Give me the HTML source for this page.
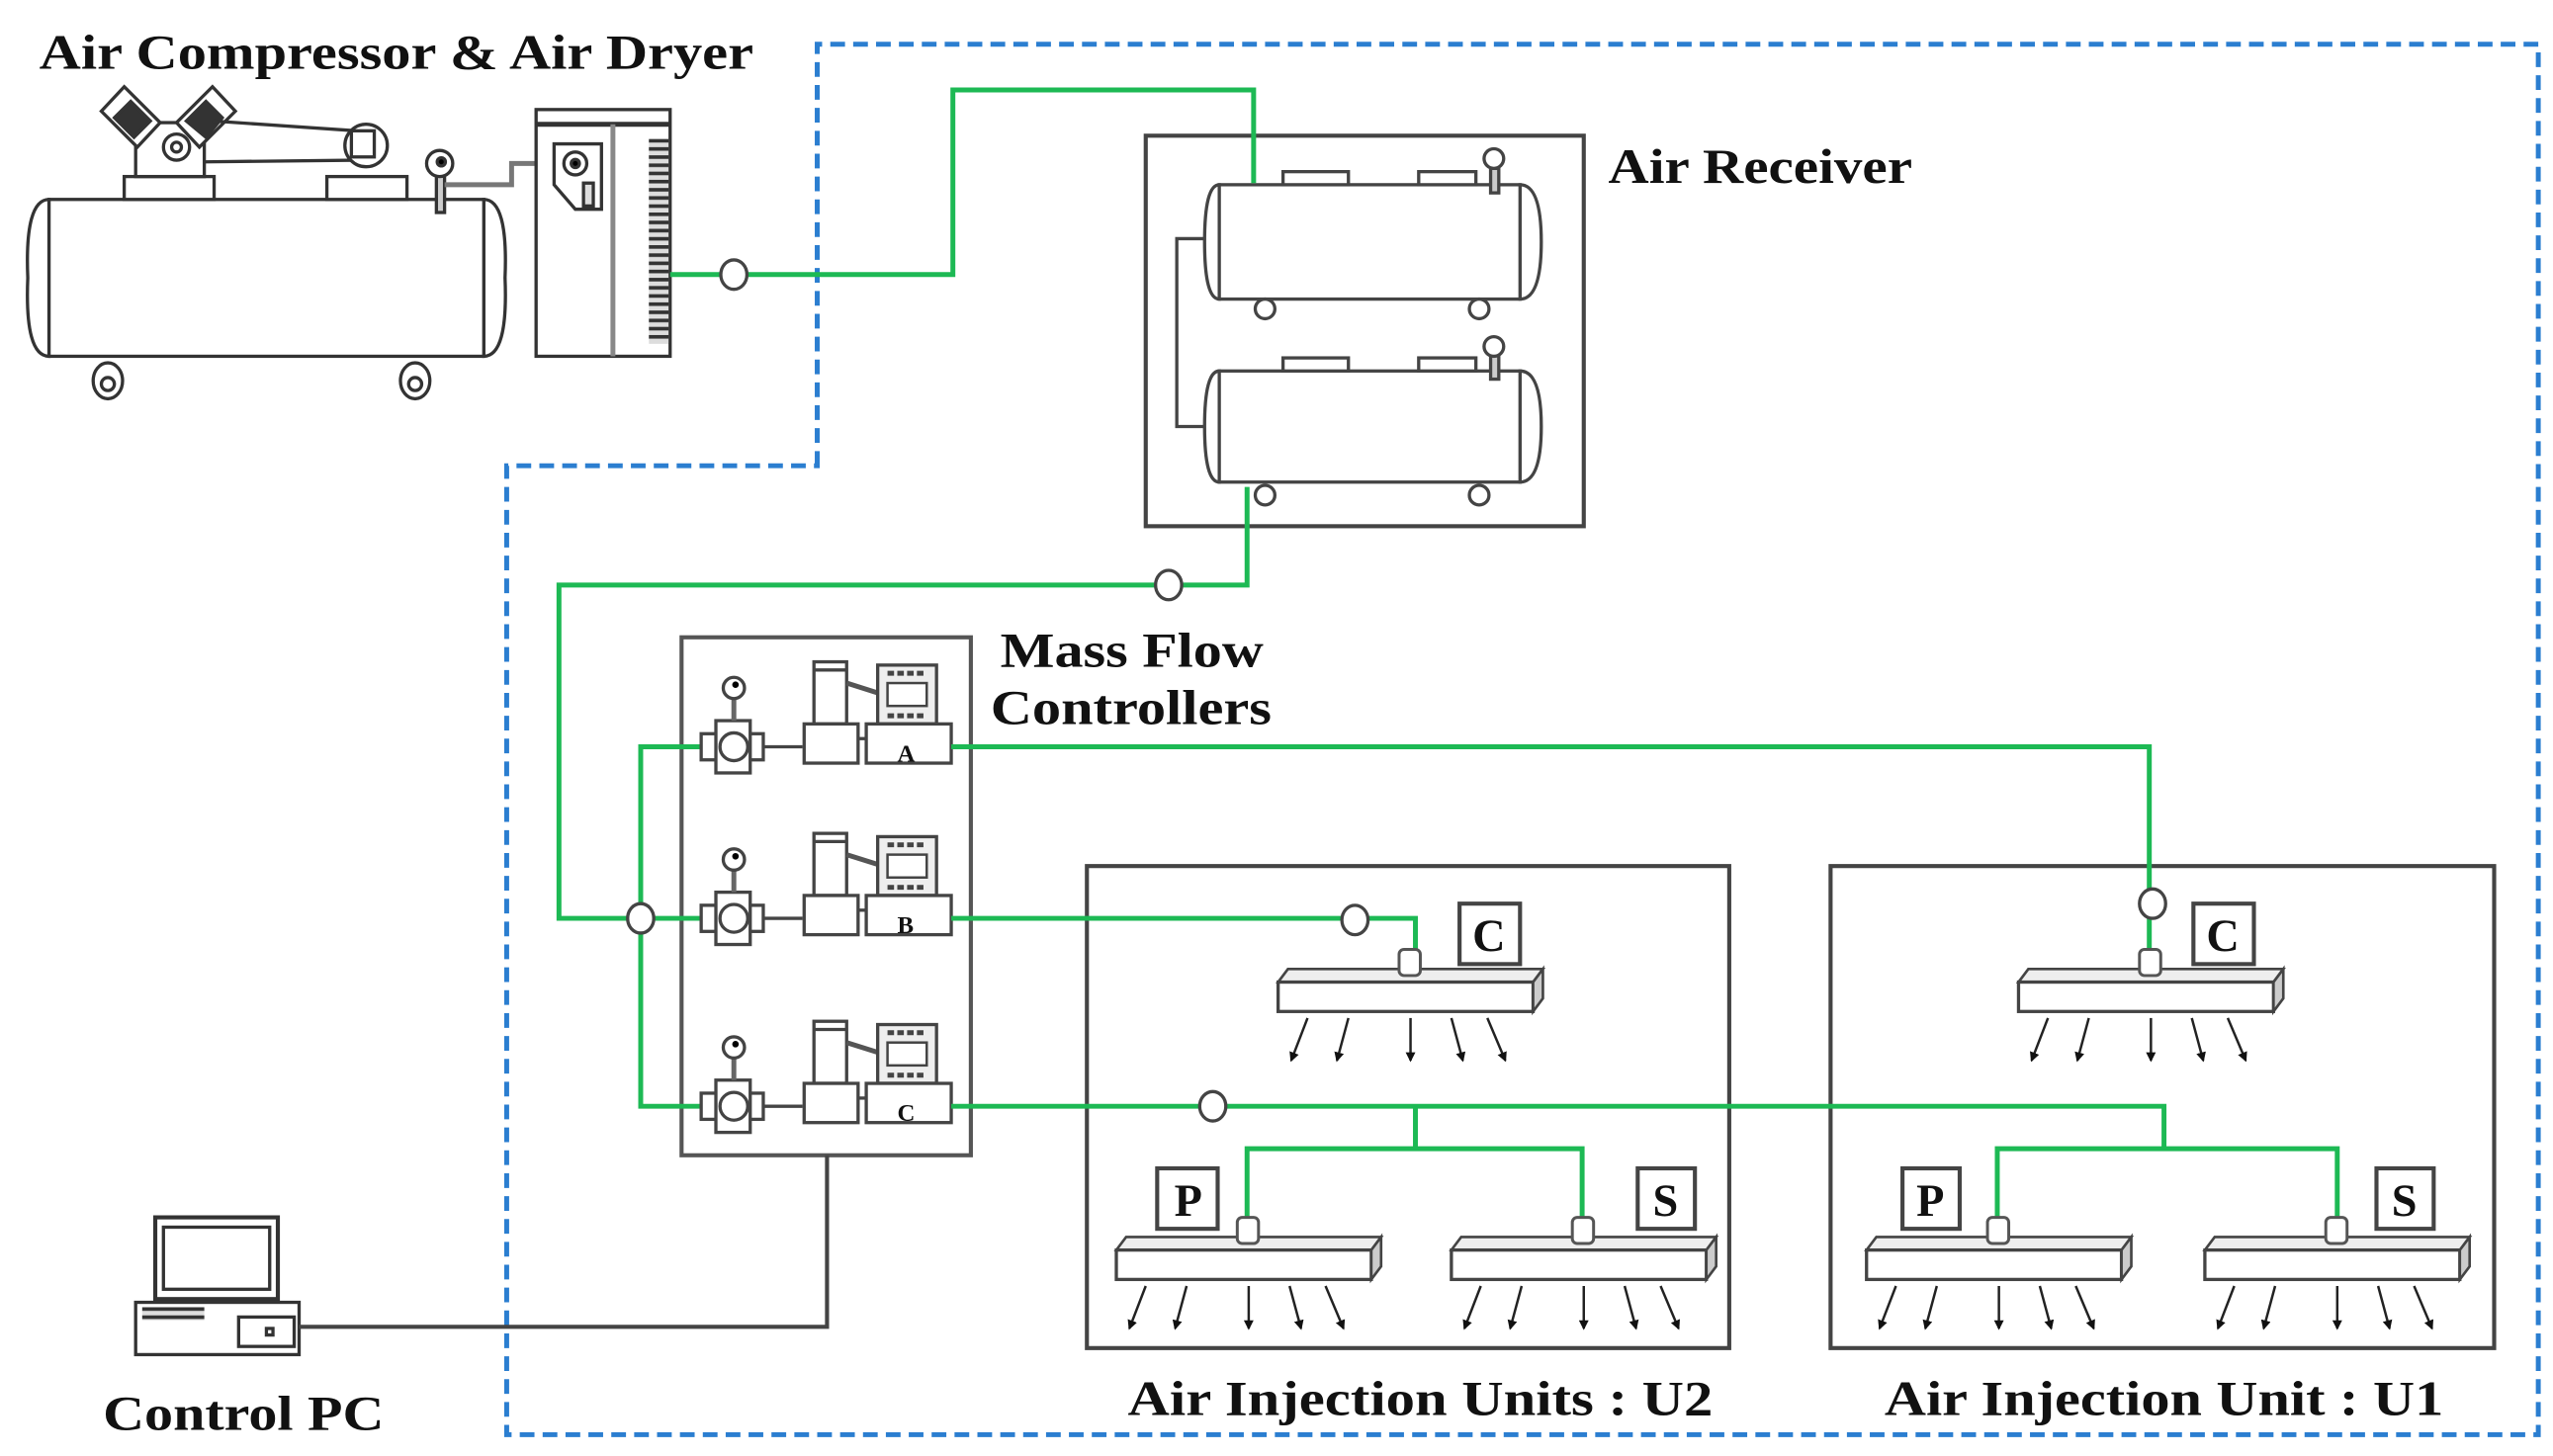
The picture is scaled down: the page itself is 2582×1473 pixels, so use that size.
<!DOCTYPE html>
<html><head><meta charset="utf-8"><style>
html,body{margin:0;padding:0;background:#fff;}
svg{display:block;}
text{font-family:"Liberation Serif",serif;font-weight:bold;fill:#111;}
</style></head><body>
<svg width="2582" height="1473" viewBox="0 0 1562 891" xmlns="http://www.w3.org/2000/svg">
<defs>
<pattern id="vent" width="6" height="5" patternUnits="userSpaceOnUse"><rect width="12" height="5" fill="#ddd"/><rect width="12" height="2.2" fill="#333"/></pattern>
<marker id="ah" markerWidth="6" markerHeight="6" refX="5" refY="3" orient="auto" markerUnits="userSpaceOnUse"><path d="M0,0 L6,3 L0,6 z" fill="#111"/></marker>
<g id="bar">
 <polygon points="0,8 6,0 162,0 156,8" fill="#eee" stroke="#444" stroke-width="1.6"/>
 <rect x="0" y="8" width="156" height="18" fill="#fff" stroke="#444" stroke-width="2"/>
 <polygon points="156,8 162,0 162,18 156,26" fill="#ccc" stroke="#444" stroke-width="1.6"/>
 <rect x="74" y="-12" width="13" height="16" rx="3" fill="#fff" stroke="#555" stroke-width="1.8"/>
 <g stroke="#222" stroke-width="1.5" marker-end="url(#ah)">
  <line x1="18" y1="30" x2="8" y2="56"/>
  <line x1="43" y1="30" x2="36" y2="56"/>
  <line x1="81" y1="30" x2="81" y2="56"/>
  <line x1="106" y1="30" x2="113" y2="56"/>
  <line x1="128" y1="30" x2="139" y2="56"/>
 </g>
</g>
<g id="mfc">
 <line x1="467" y1="457" x2="491" y2="457" stroke="#444" stroke-width="2"/>
 <rect x="429" y="449" width="38" height="16" fill="#fff" stroke="#444" stroke-width="2"/>
 <rect x="438" y="441" width="21" height="32" fill="#fff" stroke="#444" stroke-width="2"/>
 <circle cx="449" cy="457" r="8.5" fill="#fff" stroke="#444" stroke-width="2"/>
 <line x1="449" y1="427" x2="449" y2="441" stroke="#666" stroke-width="3"/>
 <circle cx="449" cy="421" r="6.5" fill="#fff" stroke="#444" stroke-width="2"/>
 <circle cx="450" cy="419" r="2" fill="#000"/>
 <rect x="498" y="405" width="20" height="38" fill="#fff" stroke="#444" stroke-width="2"/>
 <line x1="498" y1="410" x2="518" y2="410" stroke="#444" stroke-width="2"/>
 <rect x="492" y="443" width="33" height="24" fill="#fff" stroke="#444" stroke-width="2"/>
 <line x1="518" y1="418" x2="537" y2="424" stroke="#555" stroke-width="3"/>
 <rect x="537" y="407" width="36" height="36" fill="#eee" stroke="#444" stroke-width="2"/>
 <rect x="543" y="418" width="24" height="14" fill="#fff" stroke="#444" stroke-width="1.5"/>
 <line x1="543" y1="412" x2="567" y2="412" stroke="#444" stroke-width="3" stroke-dasharray="4,2"/>
 <line x1="543" y1="438" x2="567" y2="438" stroke="#444" stroke-width="3" stroke-dasharray="4,2"/>
 <rect x="530" y="443" width="52" height="24" fill="#fff" stroke="#444" stroke-width="2"/>
 <line x1="525" y1="452" x2="530" y2="452" stroke="#444" stroke-width="2"/>
</g>
</defs>

<path d="M500,285 L500,27 L1553,27 L1553,878 L310,878 L310,285 Z" fill="none" stroke="#2b7ed0" stroke-width="3" stroke-dasharray="9,5"/>

<text x="24" y="42" font-size="30" textLength="437" lengthAdjust="spacingAndGlyphs">Air Compressor &amp; Air Dryer</text>
<text x="984" y="112" font-size="30" textLength="186" lengthAdjust="spacingAndGlyphs">Air Receiver</text>
<text x="612" y="408" font-size="30" textLength="161" lengthAdjust="spacingAndGlyphs">Mass Flow</text>
<text x="606" y="443" font-size="30" textLength="172" lengthAdjust="spacingAndGlyphs">Controllers</text>
<text x="63" y="875" font-size="30" textLength="172" lengthAdjust="spacingAndGlyphs">Control PC</text>
<text x="690" y="866" font-size="30" textLength="358" lengthAdjust="spacingAndGlyphs">Air Injection Units : U2</text>
<text x="1153" y="866" font-size="30" textLength="342" lengthAdjust="spacingAndGlyphs">Air Injection Unit : U1</text>

<g stroke="#333" stroke-width="2" fill="#fff">
 <path d="M30,122 Q15,122 17,170 Q15,218 30,218 Z"/>
 <path d="M296,122 Q311,122 309,170 Q311,218 296,218 Z"/>
 <rect x="30" y="122" width="266" height="96"/>
 <rect x="76" y="108" width="55" height="14"/>
 <rect x="200" y="108" width="49" height="14"/>
 <rect x="83" y="75" width="42" height="33"/>
 <circle cx="108" cy="90" r="8"/><circle cx="108" cy="90" r="3"/>
 <polygon points="62,68 76,53 98,75 84,90"/>
 <polygon points="108,75 130,53 144,68 122,90"/>
 <polygon points="70,72 80,62 92,74 82,84" fill="#333"/>
 <polygon points="114,74 126,62 136,72 126,84" fill="#333"/>
 <line x1="130" y1="74" x2="218" y2="80"/><line x1="125" y1="99" x2="218" y2="98"/>
 <circle cx="224" cy="89" r="13"/><rect x="215" y="80" width="14" height="16"/>
 <ellipse cx="66" cy="233" rx="9" ry="11"/><circle cx="66" cy="235" r="4"/>
 <ellipse cx="254" cy="233" rx="9" ry="11"/><circle cx="254" cy="235" r="4"/>
 <rect x="267" y="105" width="5" height="25" fill="#ccc"/>
 <circle cx="269" cy="100" r="8"/><circle cx="270" cy="99" r="2.5" fill="#000"/>
 <polyline points="272,113 313,113 313,100 328,100" fill="none" stroke="#777" stroke-width="3"/>
</g>
<g stroke="#333" stroke-width="2" fill="#fff">
 <rect x="328" y="67" width="82" height="151"/>
 <line x1="328" y1="76" x2="410" y2="76" stroke-width="3"/>
 <line x1="375" y1="76" x2="375" y2="218" stroke="#888" stroke-width="3"/>
 <rect x="397" y="85" width="12" height="125" fill="url(#vent)" stroke="none"/>
 <path d="M339,88 L368,88 L368,128 L352,128 L339,113 Z"/>
 <circle cx="352" cy="100" r="7"/><circle cx="352" cy="100" r="2.5" fill="#000"/>
 <rect x="357" y="112" width="6" height="14" fill="#ddd"/>
</g>

<g stroke="#444" stroke-width="2" fill="#fff">
 <rect x="701" y="83" width="268" height="239" stroke-width="2.5"/>
 <polyline points="739,146 720,146 720,261 739,261" fill="none"/>
 <path d="M746,113 Q737,113 737,148 Q737,183 746,183 Z"/>
 <path d="M930,113 Q943,113 943,148 Q943,183 930,183 Z"/>
 <rect x="746" y="113" width="184" height="70"/>
 <rect x="785" y="105" width="40" height="8"/><rect x="868" y="105" width="35" height="8"/>
 <rect x="912" y="103" width="5" height="15" fill="#ccc"/><circle cx="914" cy="97" r="6"/>
 <circle cx="774" cy="189" r="6"/><circle cx="905" cy="189" r="6"/>
 <path d="M746,227 Q737,227 737,261 Q737,295 746,295 Z"/>
 <path d="M930,227 Q943,227 943,261 Q943,295 930,295 Z"/>
 <rect x="746" y="227" width="184" height="68"/>
 <rect x="785" y="219" width="40" height="8"/><rect x="868" y="219" width="35" height="8"/>
 <rect x="912" y="217" width="5" height="15" fill="#ccc"/><circle cx="914" cy="212" r="6"/>
 <circle cx="774" cy="303" r="6"/><circle cx="905" cy="303" r="6"/>
</g>

<rect x="417" y="390" width="177" height="317" fill="#fff" stroke="#555" stroke-width="2.5"/>
<use href="#mfc"/>
<use href="#mfc" transform="translate(0,105)"/>
<use href="#mfc" transform="translate(0,220)"/>
<text x="549" y="466" font-size="15" font-weight="normal">A</text>
<text x="549" y="571" font-size="15" font-weight="normal">B</text>
<text x="549" y="686" font-size="15" font-weight="normal">C</text>

<rect x="665" y="530" width="393" height="295" fill="none" stroke="#444" stroke-width="2.5"/>
<rect x="1120" y="530" width="406" height="295" fill="none" stroke="#444" stroke-width="2.5"/>

<g stroke="#1db954" stroke-width="3" fill="none">
 <polyline points="410,168 583,168 583,55 767,55 767,112"/>
 <polyline points="763,298 763,358 342,358 342,562 392,562"/>
 <polyline points="428,457 392,457 392,677 428,677"/>
 <line x1="392" y1="562" x2="428" y2="562"/>
 <polyline points="582,457 1315,457 1315,590"/>
 <polyline points="582,562 866,562 866,590"/>
 <polyline points="582,677 1324,677 1324,703"/>
 <line x1="866" y1="677" x2="866" y2="703"/>
 <polyline points="763,748 763,703 968,703 968,748"/>
 <polyline points="1222,748 1222,703 1430,703 1430,748"/>
</g>
<g fill="#fff" stroke="#444" stroke-width="2">
 <ellipse cx="449" cy="168" rx="8" ry="9"/>
 <ellipse cx="715" cy="358" rx="8" ry="9"/>
 <ellipse cx="392" cy="562" rx="8" ry="9"/>
 <ellipse cx="829" cy="563" rx="8" ry="9"/>
 <ellipse cx="742" cy="677" rx="8" ry="9"/>
 <ellipse cx="1317" cy="553" rx="8" ry="9"/>
</g>

<use href="#bar" transform="translate(782,593)"/>
<use href="#bar" transform="translate(1235,593)"/>
<use href="#bar" transform="translate(683,757)"/>
<use href="#bar" transform="translate(888,757)"/>
<use href="#bar" transform="translate(1142,757)"/>
<use href="#bar" transform="translate(1349,757)"/>

<g fill="#fff" stroke="#444" stroke-width="2.5">
 <rect x="893" y="553" width="37" height="37"/>
 <rect x="1342" y="553" width="37" height="37"/>
 <rect x="708" y="715" width="37" height="37"/>
 <rect x="1002" y="715" width="35" height="37"/>
 <rect x="1164" y="715" width="35" height="37"/>
 <rect x="1454" y="715" width="35" height="37"/>
</g>
<g font-size="28" text-anchor="middle">
 <text x="911" y="582">C</text>
 <text x="1360" y="582">C</text>
 <text x="727" y="744">P</text>
 <text x="1019" y="744">S</text>
 <text x="1181" y="744">P</text>
 <text x="1471" y="744">S</text>
</g>

<g stroke="#333" stroke-width="2" fill="#fff">
 <rect x="95" y="745" width="75" height="50" stroke-width="2.5"/>
 <rect x="100" y="751" width="65" height="38" fill="#fff"/>
 <rect x="83" y="797" width="100" height="32"/>
 <rect x="87" y="800" width="38" height="8" fill="url(#vent)" stroke="none"/>
 <rect x="146" y="806" width="34" height="18"/>
 <rect x="163" y="813" width="4" height="4"/>
 <polyline points="183,812 506,812 506,707" fill="none" stroke="#444" stroke-width="2.5"/>
</g>
</svg>
</body></html>
